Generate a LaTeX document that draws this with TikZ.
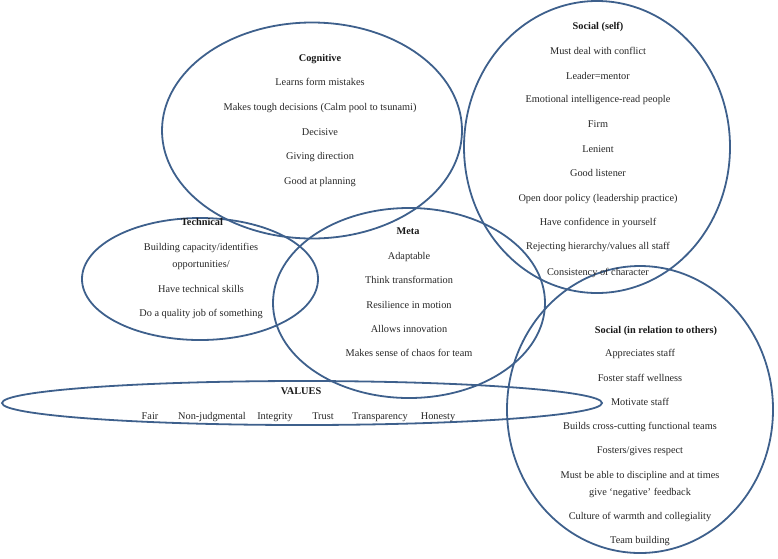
\documentclass[tikz,border=0pt]{standalone}
\usepackage{fontspec}
\setmainfont{Liberation Serif}
\usepackage{tikz}
\usetikzlibrary{shapes.geometric}
\usepackage{xcolor}
\definecolor{ringblue}{RGB}{62,96,140}
\tikzstyle{ring} = [ellipse, draw=ringblue, line width=1.8pt, inner sep=0pt]
\tikzstyle{head} = [font=\fontsize{10.3}{12}\selectfont\bfseries, text=black!90, anchor=mid, inner sep=0pt]
\tikzstyle{item} = [font=\fontsize{10.3}{12}\selectfont, text=black!85, anchor=mid, inner sep=0pt]

\begin{document}
\begin{tikzpicture}[x=1pt, y=-1pt]
    \useasboundingbox (0,0) rectangle (778,558);

    % the six groups
    \node (cog) [ring, minimum width=300pt, minimum height=216pt] at (312,130.5) {};
    \node (self) [ring, minimum width=266pt, minimum height=292pt] at (597,147) {};
    \node (tech) [ring, minimum width=236pt, minimum height=122pt] at (200,279) {};
    \node (meta) [ring, minimum width=272pt, minimum height=190pt] at (409,303) {};
    \node (val) [ring, minimum width=600pt, minimum height=44pt] at (302,403) {};
    \node (others) [ring, minimum width=266pt, minimum height=287pt] at (640,409.5) {};

    % Cognitive
    \node (cogT) [head] at (320,59) {Cognitive};
    \foreach \y/\txt [count=\i] in {83/Learns form mistakes, 108/Makes tough decisions (Calm pool to tsunami), 133/Decisive, 157/Giving direction, 182/Good at planning} {
        \node (cog\i) [item] at (320,\y) {\txt};
    }

    % Social (self)
    \node (selfT) [head] at (598,27) {Social (self)};
    \foreach \y/\txt [count=\i] in {52/Must deal with conflict, 77/Leader=mentor, 100/Emotional intelligence-read people, 125/Firm, 150/Lenient, 174/Good listener, 199/Open door policy (leadership practice), 223/Have confidence in yourself, 247/{Rejecting hierarchy/values all staff}, 273/Consistency of character} {
        \node (self\i) [item] at (598,\y) {\txt};
    }

    % Technical
    \node (techT) [head] at (202,223) {Technical};
    \foreach \y/\txt [count=\i] in {248/{Building capacity/identifies}, 265/{opportunities/}, 290/Have technical skills, 314/Do a quality job of something} {
        \node (tech\i) [item] at (201,\y) {\txt};
    }

    % Meta
    \node (metaT) [head] at (408,232) {Meta};
    \foreach \y/\txt [count=\i] in {257/Adaptable, 281/Think transformation, 306/Resilience in motion, 330/Allows innovation, 354/Makes sense of chaos for team} {
        \node (meta\i) [item] at (409,\y) {\txt};
    }

    % Values
    \node (valT) [head] at (301,392) {VALUES};
    \foreach \x/\txt [count=\i] in {150/Fair, 212/Non-judgmental, 275/Integrity, 323/Trust, 380/Transparency, 438/Honesty} {
        \node (val\i) [item] at (\x,417) {\txt};
    }

    % Social (in relation to others)
    \node (othersT) [head] at (656,331) {Social (in relation to others)};
    \foreach \y/\txt [count=\i] in {354/Appreciates staff, 379/Foster staff wellness, 403/Motivate staff, 427/Builds cross-cutting functional teams, 451/{Fosters/gives respect}, 476/Must be able to discipline and at times, 493/give `negative' feedback, 517/Culture of warmth and collegiality, 541/Team building} {
        \node (others\i) [item] at (640,\y) {\txt};
    }
\end{tikzpicture}
\end{document}
